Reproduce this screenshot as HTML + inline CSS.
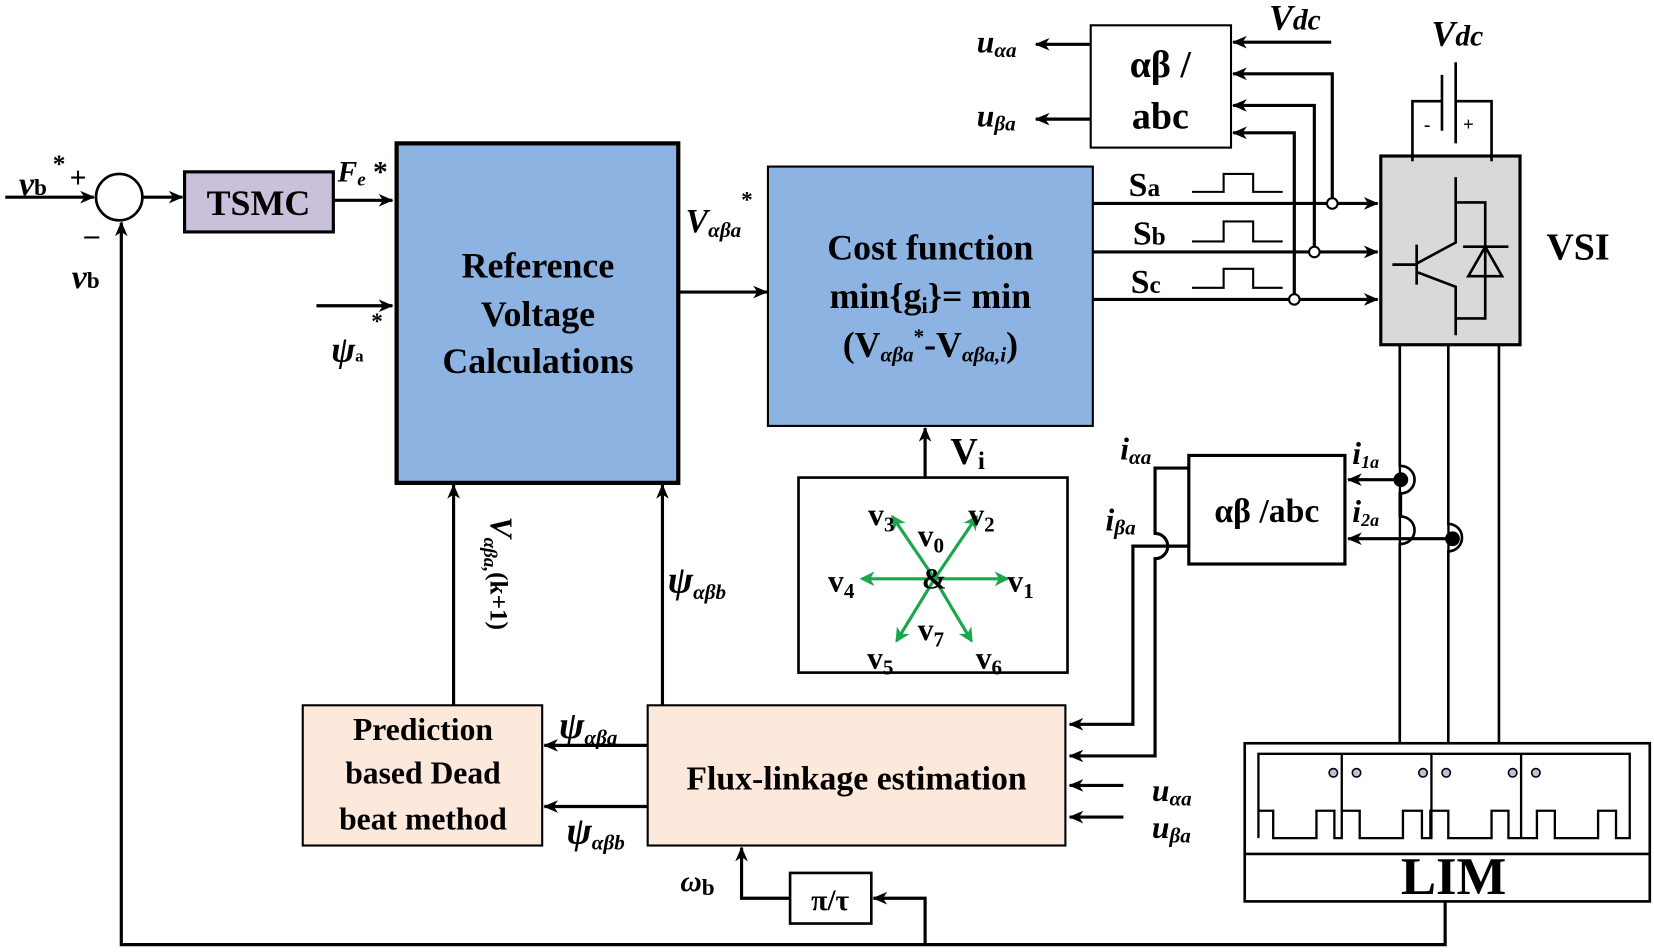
<!DOCTYPE html>
<html><head><meta charset="utf-8"><style>
html,body{margin:0;padding:0;background:#fff;}
svg{display:block;}
text{font-family:"Liberation Serif",serif;font-weight:bold;fill:#000;}
.i{font-style:italic;}
</style></head><body>
<svg width="1654" height="952" viewBox="0 0 1568 903" preserveAspectRatio="none" xmlns="http://www.w3.org/2000/svg">
<defs>
<marker id="a" markerWidth="14" markerHeight="12" refX="13" refY="6" orient="auto" markerUnits="userSpaceOnUse" viewBox="0 0 14 12"><path d="M0,0 L14,6 L0,12 L4,6 z" fill="#000"/></marker>
<marker id="g" markerWidth="14" markerHeight="14" refX="12" refY="7" orient="auto" markerUnits="userSpaceOnUse" viewBox="0 0 14 14"><path d="M0,0 L14,7 L0,14 L4,7 z" fill="#1aa64a"/></marker>
</defs>
<g stroke="#000" stroke-width="3" fill="none">
<line x1="5" y1="187" x2="89" y2="187" marker-end="url(#a)"/>
<circle cx="113" cy="187" r="22" stroke-width="2.5"/>
<line x1="135" y1="187" x2="173" y2="187" marker-end="url(#a)"/>
<rect x="175" y="163" width="141" height="57" fill="#cbc0dc" stroke-width="3"/>
<line x1="316" y1="190" x2="372" y2="190" marker-end="url(#a)"/>
<line x1="300" y1="290" x2="372" y2="290" marker-end="url(#a)"/>
<rect x="376" y="136" width="267" height="322" fill="#8db3e2" stroke-width="4"/>
<line x1="643" y1="277" x2="727" y2="277" marker-end="url(#a)"/>
<rect x="728" y="158" width="308" height="246" fill="#8db3e2" stroke-width="2"/>
<line x1="1036" y1="193" x2="1306" y2="193" marker-end="url(#a)"/>
<line x1="1036" y1="239" x2="1306" y2="239" marker-end="url(#a)"/>
<line x1="1036" y1="284" x2="1306" y2="284" marker-end="url(#a)"/>
<path d="M1130,182 H1160 V165 H1188 V182 H1216" stroke-width="2"/>
<path d="M1130,229 H1160 V210 H1188 V229 H1216" stroke-width="2"/>
<path d="M1130,273 H1160 V255 H1188 V273 H1216" stroke-width="2"/>
<rect x="1034" y="24" width="133" height="116" stroke-width="2"/>
<line x1="1034" y1="42" x2="982" y2="42" marker-end="url(#a)"/>
<line x1="1034" y1="113" x2="982" y2="113" marker-end="url(#a)"/>
<line x1="1262" y1="40" x2="1169" y2="40" marker-end="url(#a)"/>
<path d="M1263,189 V70 H1169" marker-end="url(#a)"/>
<path d="M1246,235 V100 H1169" marker-end="url(#a)"/>
<path d="M1227,280 V126 H1169" marker-end="url(#a)"/>
<circle cx="1263" cy="193" r="5" fill="#fff" stroke-width="2"/>
<circle cx="1246" cy="239" r="5" fill="#fff" stroke-width="2"/>
<circle cx="1227" cy="284" r="5" fill="#fff" stroke-width="2"/>
<rect x="1309" y="148" width="132" height="179" fill="#d9d9d9" stroke-width="3"/>
<path d="M1414,153 V96 H1380 M1367,96 H1339 V153" stroke-width="2.5"/>
<line x1="1367" y1="71" x2="1367" y2="124" stroke-width="2.5"/>
<line x1="1380" y1="59" x2="1380" y2="136" stroke-width="2.5"/>
<path d="M1380,168 V230 L1343,250 M1320,251 H1343 M1343,232 V270 M1343,258 L1380,272 V318 M1380,192 H1408 V302 H1380 M1387,234 H1430 M1408,234 L1392,262 H1424 Z" stroke-width="2.5"/>
<line x1="1327" y1="327" x2="1327" y2="705" stroke-width="2.5"/>
<line x1="1373" y1="327" x2="1373" y2="705" stroke-width="2.5"/>
<line x1="1421" y1="327" x2="1421" y2="705" stroke-width="2.5"/>
<rect x="1180" y="705" width="384" height="150" fill="#fff" stroke-width="2.5"/>
<line x1="1180" y1="810" x2="1564" y2="810" stroke-width="2.5"/>
<path d="M1193,795 V715 H1545 V795 H1532 V769 H1515 V795 H1474 V769 H1457 V795 H1442 M1442,715 V795 H1430 V769 H1414 V795 H1373 V769 H1356 V795 H1358 M1357,715 V795 M1357,795 H1348 V769 H1330 V795 H1289 V769 H1272 V795 H1268 M1272,715 V795 M1272,795 H1265 V769 H1248 V795 H1207 V769 H1193" stroke-width="2.2"/>
<rect x="1127" y="432" width="148" height="103" fill="#fff" stroke-width="3"/>
<path d="M1328,442 a13,13 0 0 1 0,26 V490 a13,13 0 0 1 0,26" stroke-width="2.5"/>
<rect x="1320" y="443" width="6" height="24" fill="#fff" stroke="none"/>
<rect x="1320" y="491" width="6" height="24" fill="#fff" stroke="none"/>
<path d="M1373,497 a13,13 0 0 1 0,26" stroke-width="2.5"/>
<rect x="1366" y="498" width="6" height="24" fill="#fff" stroke="none"/>
<line x1="1327" y1="455" x2="1278" y2="455" marker-end="url(#a)"/>
<line x1="1376" y1="511" x2="1278" y2="511" marker-end="url(#a)"/>
<path d="M1127,444 H1095 V506 a12,12 0 0 1 0,24 V717 H1014" marker-end="url(#a)"/>
<path d="M1127,518 H1074 V687 H1014" marker-end="url(#a)"/>
<line x1="1065" y1="745" x2="1014" y2="745" marker-end="url(#a)"/>
<line x1="1065" y1="775" x2="1014" y2="775" marker-end="url(#a)"/>
<rect x="757" y="453" width="255" height="185" stroke-width="2.5"/>
<line x1="877" y1="453" x2="877" y2="406" marker-end="url(#a)"/>
<rect x="614" y="669" width="396" height="133" fill="#fce9db" stroke-width="2"/>
<rect x="287" y="669" width="227" height="133" fill="#fce9db" stroke-width="2"/>
<line x1="614" y1="707" x2="516" y2="707" marker-end="url(#a)"/>
<line x1="614" y1="765" x2="516" y2="765" marker-end="url(#a)"/>
<line x1="430" y1="669" x2="430" y2="460" marker-end="url(#a)"/>
<line x1="628" y1="669" x2="628" y2="460" marker-end="url(#a)"/>
<path d="M1370,855 V896 H115 V211" marker-end="url(#a)"/>
<path d="M877,896 V852 H828" marker-end="url(#a)"/>
<rect x="749" y="828" width="77" height="48" stroke-width="2.5"/>
<path d="M749,852 H703 V804" marker-end="url(#a)"/>
</g>
<circle cx="1328" cy="455" r="7" fill="#000"/>
<circle cx="1377" cy="511" r="7" fill="#000"/>
<g fill="#cfb8dd" stroke="#000" stroke-width="1.5">
<circle cx="1264" cy="733" r="4"/><circle cx="1286" cy="733" r="4"/>
<circle cx="1349" cy="733" r="4"/><circle cx="1371" cy="733" r="4"/>
<circle cx="1434" cy="733" r="4"/><circle cx="1456" cy="733" r="4"/>
</g>
<g stroke="#1aa64a" stroke-width="3" fill="none">
<line x1="886" y1="549" x2="955" y2="549" marker-end="url(#g)"/>
<line x1="886" y1="549" x2="817" y2="549" marker-end="url(#g)"/>
<line x1="886" y1="549" x2="926" y2="490" marker-end="url(#g)"/>
<line x1="886" y1="549" x2="846" y2="490" marker-end="url(#g)"/>
<line x1="886" y1="549" x2="850" y2="608" marker-end="url(#g)"/>
<line x1="886" y1="549" x2="921" y2="608" marker-end="url(#g)"/>
</g>
<text x="18" y="185" font-size="32" class="i">v<tspan font-size="22" font-style="normal">b</tspan></text>
<text x="50" y="163" font-size="24">*</text>
<text x="66" y="178" font-size="28">+</text>
<text x="80" y="232" font-size="28">–</text>
<text x="68" y="273" font-size="32" class="i">v<tspan font-size="22" font-style="normal">b</tspan></text>
<text x="245" y="204" font-size="34" text-anchor="middle">TSMC</text>
<text x="320" y="172" font-size="28" class="i">F<tspan font-size="18" dy="4">e</tspan><tspan dy="-4" font-style="normal"> *</tspan></text>
<text x="352" y="312" font-size="22">*</text>
<text x="314" y="343" font-size="34" class="i">ψ<tspan font-size="16" font-style="normal">a</tspan></text>
<g font-size="34" text-anchor="middle">
<text x="510" y="263">Reference</text>
<text x="510" y="309">Voltage</text>
<text x="510" y="354">Calculations</text>
<text x="882" y="246">Cost function</text>
<text x="882" y="292">min{g<tspan font-size="22" dy="5">i</tspan><tspan dy="-5">}= min</tspan></text>
<text x="882" y="338">(V<tspan font-size="20" class="i" dy="5">αβa</tspan><tspan font-size="20" dy="-17">*</tspan><tspan dy="12">-V</tspan><tspan font-size="20" class="i" dy="5">αβa,i</tspan><tspan dy="-5">)</tspan></text>
</g>
<text x="650" y="220" font-size="32" class="i">V<tspan font-size="20" dy="5">αβa</tspan><tspan font-size="22" dy="-28" font-style="normal">*</tspan></text>
<text x="1070" y="186" font-size="32" font-weight="normal">S<tspan font-size="24">a</tspan></text>
<text x="1074" y="232" font-size="32" font-weight="normal">S<tspan font-size="24">b</tspan></text>
<text x="1072" y="278" font-size="32" font-weight="normal">S<tspan font-size="24">c</tspan></text>
<text x="1100" y="73" font-size="36" text-anchor="middle">αβ /</text>
<text x="1100" y="122" font-size="36" text-anchor="middle">abc</text>
<text x="926" y="50" font-size="30" class="i">u<tspan font-size="20" dy="4">αa</tspan></text>
<text x="926" y="120" font-size="30" class="i">u<tspan font-size="20" dy="4">βa</tspan></text>
<text x="1203" y="28" font-size="34" class="i">V<tspan font-size="28">dc</tspan></text>
<text x="1357" y="43" font-size="34" class="i">V<tspan font-size="28">dc</tspan></text>
<text x="1350" y="124" font-size="18">-</text>
<text x="1387" y="124" font-size="18">+</text>
<text x="1466" y="246" font-size="36">VSI</text>
<text x="1378" y="848" font-size="50" text-anchor="middle">LIM</text>
<text x="1201" y="495" font-size="32" text-anchor="middle">αβ /abc</text>
<text x="1062" y="436" font-size="30" class="i">i<tspan font-size="20" dy="4">αa</tspan></text>
<text x="1048" y="503" font-size="30" class="i">i<tspan font-size="20" dy="4">βa</tspan></text>
<text x="1282" y="440" font-size="30" class="i">i<tspan font-size="17" dy="4">1a</tspan></text>
<text x="1282" y="495" font-size="30" class="i">i<tspan font-size="17" dy="4">2a</tspan></text>
<text x="1092" y="760" font-size="30" class="i">u<tspan font-size="20" dy="4">αa</tspan></text>
<text x="1092" y="795" font-size="30" class="i">u<tspan font-size="20" dy="4">βa</tspan></text>
<text x="901" y="440" font-size="36">V<tspan font-size="24" dy="5">i</tspan></text>
<g font-size="30">
<text x="823" y="498">v<tspan font-size="20" dy="6">3</tspan></text>
<text x="918" y="498">v<tspan font-size="20" dy="6">2</tspan></text>
<text x="870" y="518">v<tspan font-size="20" dy="6">0</tspan></text>
<text x="785" y="561">v<tspan font-size="20" dy="6">4</tspan></text>
<text x="955" y="561">v<tspan font-size="20" dy="6">1</tspan></text>
<text x="874" y="558" font-size="28">&amp;</text>
<text x="870" y="607">v<tspan font-size="20" dy="6">7</tspan></text>
<text x="822" y="634">v<tspan font-size="20" dy="6">5</tspan></text>
<text x="925" y="634">v<tspan font-size="20" dy="6">6</tspan></text>
</g>
<text x="812" y="749" font-size="32" text-anchor="middle">Flux-linkage estimation</text>
<g font-size="30" text-anchor="middle">
<text x="401" y="702">Prediction</text>
<text x="401" y="743">based Dead</text>
<text x="401" y="787">beat method</text>
</g>
<text x="530" y="700" font-size="36" class="i">ψ<tspan font-size="20" dy="6">αβa</tspan></text>
<text x="537" y="800" font-size="36" class="i">ψ<tspan font-size="20" dy="6">αβb</tspan></text>
<text x="633" y="562" font-size="36" class="i">ψ<tspan font-size="20" dy="6">αβb</tspan></text>
<text transform="translate(465,490) rotate(90)" font-size="30" class="i">V<tspan font-size="18" dy="6">αβa,</tspan><tspan dy="-6" font-style="normal" font-size="24">(k+1)</tspan></text>
<text x="645" y="845" font-size="28" class="i">ω<tspan font-size="22" font-style="normal" dy="4">b</tspan></text>
<text x="787" y="863" font-size="28" text-anchor="middle">π/τ</text>
</svg>
</body></html>
